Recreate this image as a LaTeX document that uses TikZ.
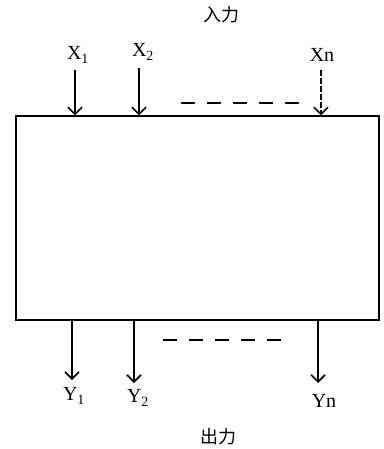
\documentclass[tikz,border=0pt]{standalone}
\usepackage{fontspec}
\setmainfont{Liberation Serif}
\newfontfamily\cjk{Noto Sans CJK SC}
\usetikzlibrary{arrows.meta}
\begin{document}
\begin{tikzpicture}[x=1pt,y=-1pt,
  lbl/.style={font=\fontsize{20}{22}\selectfont, inner sep=0pt},
  ttl/.style={font=\cjk\fontsize{18}{20}\selectfont, inner sep=0pt},
  io/.style={line width=1.6pt, -{Straight Barb[length=7pt,width=14pt,line width=1.6pt]}},
  gap/.style={line width=1.8pt, dash pattern=on 14pt off 12pt},
  frame/.style={draw, line width=1.4pt}]
\useasboundingbox (0,0) rectangle (383,449);
\node[ttl] (tin) at (221,15) {入力};
\node[ttl] (tout) at (218,437) {出力};
\node[frame, minimum width=363pt, minimum height=204pt, inner sep=0pt] (sys) at (197.5,218) {};
% inputs
\node[lbl] (x1) at (78,55) {X\textsubscript{1}};
\node[lbl] (x2) at (143,52) {X\textsubscript{2}};
\node[lbl] (xn) at (322,55) {Xn};
\coordinate (x1s) at (75,70);
\coordinate (x2s) at (139,68);
\coordinate (xns) at (321,70);
\draw[io] (x1s) -- (x1s |- sys.north);
\draw[io] (x2s) -- (x2s |- sys.north);
\draw[io, dash pattern=on 6pt off 2pt] (xns) -- (xns |- sys.north);
\coordinate (din1) at (181,103);
\coordinate (din2) at (305,103);
\draw[gap] (din1) -- (din2);
% outputs
\coordinate (y1e) at (72,380);
\coordinate (y2e) at (134,383);
\coordinate (yne) at (318,383);
\draw[io] (y1e |- sys.south) -- (y1e);
\draw[io] (y2e |- sys.south) -- (y2e);
\draw[io] (yne |- sys.south) -- (yne);
\coordinate (dout1) at (163,340);
\coordinate (dout2) at (286,340);
\draw[gap] (dout1) -- (dout2);
\node[lbl] (y1) at (74,396) {Y\textsubscript{1}};
\node[lbl] (y2) at (138,398) {Y\textsubscript{2}};
\node[lbl] (yn) at (324,401) {Yn};
\end{tikzpicture}
\end{document}
